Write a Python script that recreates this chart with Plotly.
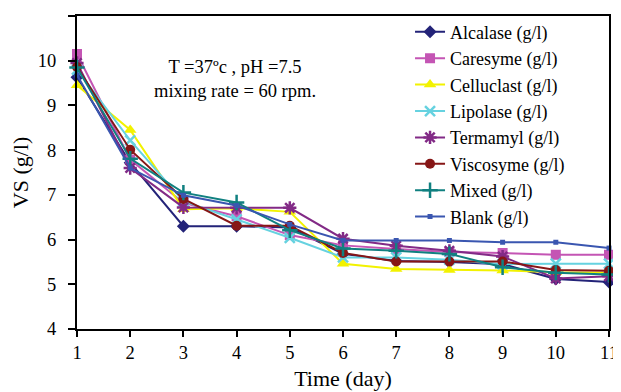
import plotly.graph_objects as go

days = [1, 2, 3, 4, 5, 6, 7, 8, 9, 10, 11]

alcalase   = [9.63, 7.72, 6.30, 6.30, 6.27, 5.68, 5.52, 5.50, 5.45, 5.12, 5.05]
caresyme   = [10.15, 7.79, 6.82, 6.52, 6.10, 5.87, 5.79, 5.72, 5.70, 5.66, 5.66]
celluclast = [9.45, 8.45, 6.68, 6.70, 6.62, 5.46, 5.34, 5.32, 5.31, 5.27, 5.26]
lipolase   = [9.80, 8.22, 6.86, 6.45, 6.04, 5.60, 5.60, 5.55, 5.45, 5.46, 5.46]
termamyl   = [9.95, 7.60, 6.72, 6.71, 6.71, 6.02, 5.86, 5.75, 5.62, 5.13, 5.18]
viscosyme  = [9.86, 8.01, 6.91, 6.31, 6.31, 5.70, 5.51, 5.51, 5.51, 5.32, 5.30]
mixed      = [9.85, 7.81, 7.05, 6.83, 6.21, 5.80, 5.75, 5.68, 5.38, 5.26, 5.22]
blank      = [9.68, 7.60, 6.99, 6.76, 6.34, 5.98, 5.98, 5.98, 5.94, 5.94, 5.81]

names = ["Alcalase (g/l)", "Caresyme (g/l)", "Celluclast (g/l)", "Lipolase (g/l)",
         "Termamyl (g/l)", "Viscosyme (g/l)", "Mixed (g/l)", "Blank (g/l)"]
series = [alcalase, caresyme, celluclast, lipolase, termamyl, viscosyme, mixed, blank]
colors = ["#232378", "#c455b4", "#f2f200", "#66d2e0", "#822a86", "#861616", "#108080", "#3a56b0"]
symbols = ["diamond", "square", "triangle-up", "x-thin", "asterisk", "circle", "cross-thin", "square"]
sizes = [10, 10, 11, 10, 11, 10, 11, 5]

fig = go.Figure()
for i, (n, s) in enumerate(zip(names, series)):
    thin = symbols[i] in ("x-thin", "asterisk", "cross-thin")
    fig.add_trace(go.Scatter(
        x=days, y=s, name=n, mode="lines+markers", legendgroup=f"g{i}",
        cliponaxis=False,
        line=dict(color=colors[i], width=2),
        marker=dict(symbol=symbols[i], size=sizes[i], color=colors[i],
                    line=dict(color=colors[i], width=2.5 if thin else 0)),
    ))

font = "Liberation Serif, Times New Roman, serif"
fig.update_layout(
    width=621, height=392,
    margin=dict(l=69, r=20, t=8, b=71, autoexpand=False),
    paper_bgcolor="white", plot_bgcolor="white",
    font=dict(family=font, size=18.5, color="black"),
    showlegend=True,
    legend=dict(x=0.626, y=0.653, xanchor="left", yanchor="middle",
                bgcolor="rgba(0,0,0,0)", borderwidth=0,
                tracegroupgap=0, font=dict(family=font, size=18)),
    xaxis=dict(range=[1, 11], dtick=1, tick0=1, showgrid=False, zeroline=False,
               showline=True, linecolor="black", linewidth=2, mirror=True,
               ticks="outside", ticklen=6, tickwidth=1.5, tickcolor="black",
               automargin=False, ticklabelstandoff=0,
               title=dict(text="Time (day)", standoff=8)),
    yaxis=dict(range=[4, 11], dtick=1, showgrid=False, zeroline=False,
               showline=True, linecolor="black", linewidth=2, mirror=True,
               ticks="outside", ticklen=7, tickwidth=1.5, tickcolor="black",
               automargin=False, ticklabelstandoff=8,
               title=dict(text="VS (g/l)", standoff=10)),
    annotations=[dict(x=0.297, y=0.799, xref="paper", yref="paper",
                      xanchor="center", yanchor="middle",
                      text="T =37ºc , pH =7.5<br>mixing rate = 60 rpm.",
                      showarrow=False, align="center",
                      font=dict(family=font, size=18.5))],
)

fig.write_html("out.html")
